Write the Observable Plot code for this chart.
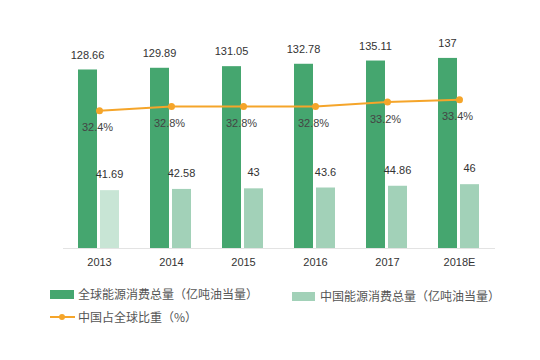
<!DOCTYPE html>
<html><head><meta charset="utf-8">
<script src="https://cdn.jsdelivr.net/npm/d3@7"></script>
<script src="https://cdn.jsdelivr.net/npm/@observablehq/plot@0.6"></script>
<style>
body{margin:0;background:#fff;font-family:"Liberation Sans","Noto Sans CJK SC",sans-serif;}
#wrap{position:relative;width:540px;height:360px;}
.lg{position:absolute;font-family:"Noto Sans CJK SC",sans-serif;font-size:12px;color:#555;line-height:14px;white-space:nowrap;}
.sw{position:absolute;}
</style></head>
<body><div id="wrap"><div id="chart"></div>
<div class="sw" style="left:50px;top:290px;width:24px;height:9px;background:#45a66f"></div>
<div class="lg" style="left:78px;top:287px">全球能源消费总量（亿吨油当量）</div>
<div class="sw" style="left:292px;top:292px;width:23px;height:9px;background:#a2d1b8"></div>
<div class="lg" style="left:320px;top:289px">中国能源消费总量（亿吨油当量）</div>
<div class="sw" style="left:50px;top:316px;width:25px;height:2px;background:#f5a52a"></div>
<div class="sw" style="left:59px;top:314px;width:6px;height:6px;border-radius:3px;background:#f5a52a"></div>
<div class="lg" style="left:78px;top:310px">中国占全球比重（%）</div>
</div>
<script>
const years = ["2013","2014","2015","2016","2017","2018E"];
const world = [128.66,129.89,131.05,132.78,135.11,137];
const china = [41.69,42.58,43,43.6,44.86,46];
const share = [32.4,32.8,32.8,32.8,33.2,33.4];
const shareLabels = ["32.4%","32.8%","32.8%","32.8%","33.2%","33.4%"];

const data = years.map((y,i)=>({year:y, world:world[i], china:china[i], share:share[i], shareLabel:shareLabels[i], idx:i}));
// secondary axis: share 20..40 mapped onto primary 0..160
const toY = s => (s - 20) * 8;

const chart = Plot.plot({
  width:540, height:280,
  marginTop:26, marginBottom:32, marginLeft:63, marginRight:45,
  x:{type:"band", domain:years, padding:0, label:null, tickSize:0, tickPadding:10},
  y:{domain:[0,160], axis:null},
  style:{fontSize:"11px", fontFamily:"Liberation Sans, sans-serif", color:"#333"},
  marks:[
    Plot.barY(data,{x:"year", y:"world", fill:"#45a66f", insetLeft:15, insetRight:38}),
    Plot.barY(data,{x:"year", y:"china", fill:d=>d.idx===0?"#c8e5d5":"#a2d1b8", insetLeft:37, insetRight:16}),
    Plot.ruleY([0],{stroke:"#e3e3e3", strokeWidth:1}),
    Plot.text(data,{x:"year", y:"world", text:d=>String(d.world), dx:-12, dy:-15, fill:"#333", fontSize:11}),
    Plot.text(data,{x:"year", y:"china", text:d=>String(d.china), dx:10, dy:-16, fill:"#333", fontSize:11}),
    Plot.line(data,{x:"year", y:d=>toY(d.share), stroke:"#f5a52a", strokeWidth:2}),
    Plot.dot(data,{x:"year", y:d=>toY(d.share), fill:"#f5a52a", r:3.5}),
    Plot.text(data,{x:"year", y:d=>toY(d.share), text:"shareLabel", dy:17, dx:-2, fill:"#444", fontSize:11})
  ]
});
chart.style.overflow="visible";
document.getElementById("chart").appendChild(chart);
</script></body></html>
